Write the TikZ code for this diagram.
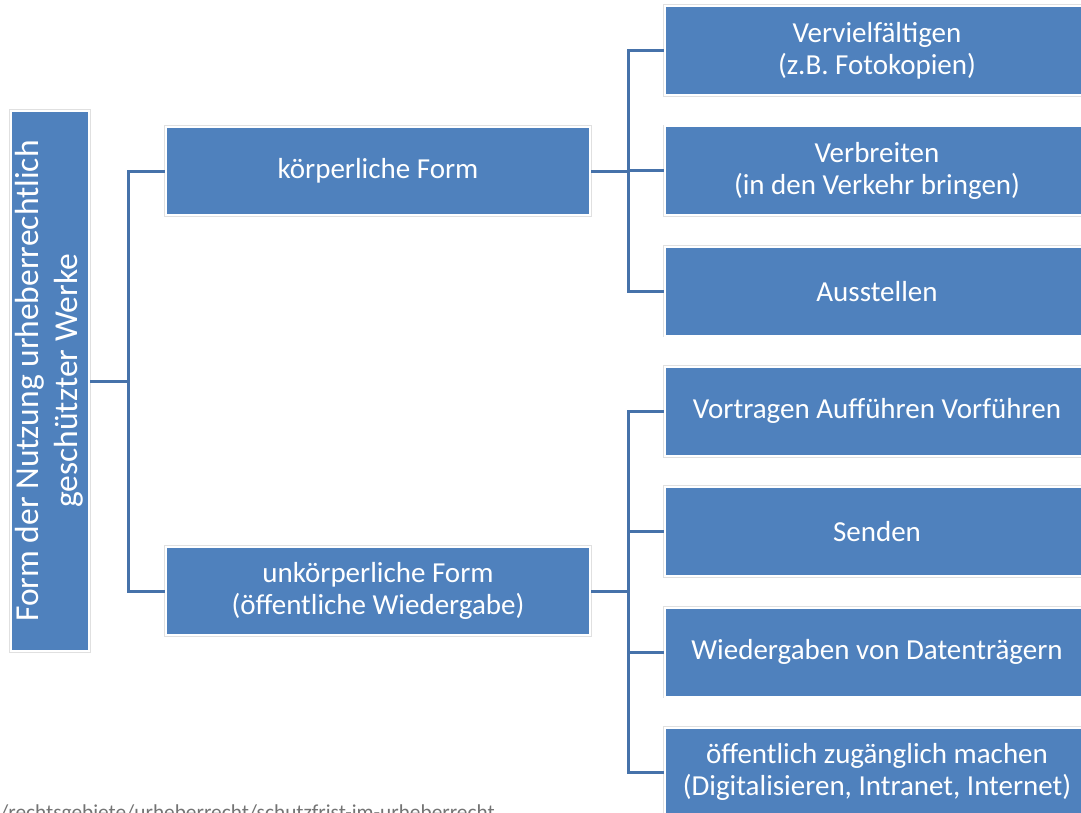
\documentclass[tikz,border=0pt]{standalone}
\usepackage{fontspec}
\setmainfont{Carlito}
\usepackage{graphicx}
\usetikzlibrary{positioning}
\definecolor{boxblue}{HTML}{4F81BD}
\definecolor{lineblue}{HTML}{4672AA}
\tikzset{x=1pt,y=-1pt,node distance=29.3pt}
\tikzset{wbox/.style={rectangle,fill=boxblue,draw=white,line width=2pt,
        preaction={draw=black!12,line width=3.5pt},
        text=white,align=center,inner sep=0pt,font=\fontsize{29}{32}\selectfont}}
\tikzset{rootbox/.style={wbox,minimum width=78pt,minimum height=540pt}}
\tikzset{lvlone/.style={wbox,minimum width=424pt,minimum height=88pt}}
\tikzset{lvltwo/.style={wbox,minimum width=424pt,minimum height=89pt}}
\tikzset{conn/.style={draw=lineblue,line width=3pt}}

\begin{document}
\begin{tikzpicture}
    \useasboundingbox (0,0) rectangle (1081,812);
    \clip (0,0) rectangle (1081,812);
    % root
    \node[rootbox] (root) at (50,381) {\rotatebox{90}{\fontsize{33.5}{39}\selectfont
        \begin{tabular}{@{}c@{}}Form der Nutzung urheberrechtlich\\geschützter Werke\end{tabular}}};
    % first level
    \node[lvlone] (kf) at (378,171) {körperliche Form};
    \node[lvlone] (uf) at (378,591) {unkörperliche Form\\(öffentliche Wiedergabe)};
    % second level
    \node[lvltwo] (v)  at (877,50.5) {Vervielfältigen\\(z.B. Fotokopien)};
    \node[lvltwo] (b)  [below=of v]  {Verbreiten\\(in den Verkehr bringen)};
    \node[lvltwo] (a)  [below=of b]  {Ausstellen};
    \node[lvltwo] (vo) [below=of a]  {Vortragen Aufführen Vorführen};
    \node[lvltwo] (se) [below=of vo] {Senden};
    \node[lvltwo] (wd) [below=of se] {Wiedergaben von Datenträgern};
    \node[lvltwo] (oz) [below=of wd] {öffentlich zugänglich machen\\(Digitalisieren, Intranet, Internet)};
    % connectors
    \coordinate (j1) at (128,381);
    \coordinate (j2) at (628,171);
    \coordinate (j3) at (628,591);
    \draw[conn] (root.east) -- (j1) |- (kf.west);
    \draw[conn] (j1) |- (uf.west);
    \draw[conn] (kf.east) -- (j2);
    \foreach \n in {v,b,a}
        \draw[conn] (j2) |- (\n.west);
    \draw[conn] (uf.east) -- (j3);
    \foreach \n in {vo,se,wd,oz}
        \draw[conn] (j3) |- (\n.west);
    % source line, cut at the bottom
    \node[anchor=base west,text=black!55,inner sep=0pt,font=\fontsize{21.3}{23}\selectfont]
        (src) at (0,819) {/rechtsgebiete/urheberrecht/schutzfrist-im-urheberrecht};
\end{tikzpicture}
\end{document}
